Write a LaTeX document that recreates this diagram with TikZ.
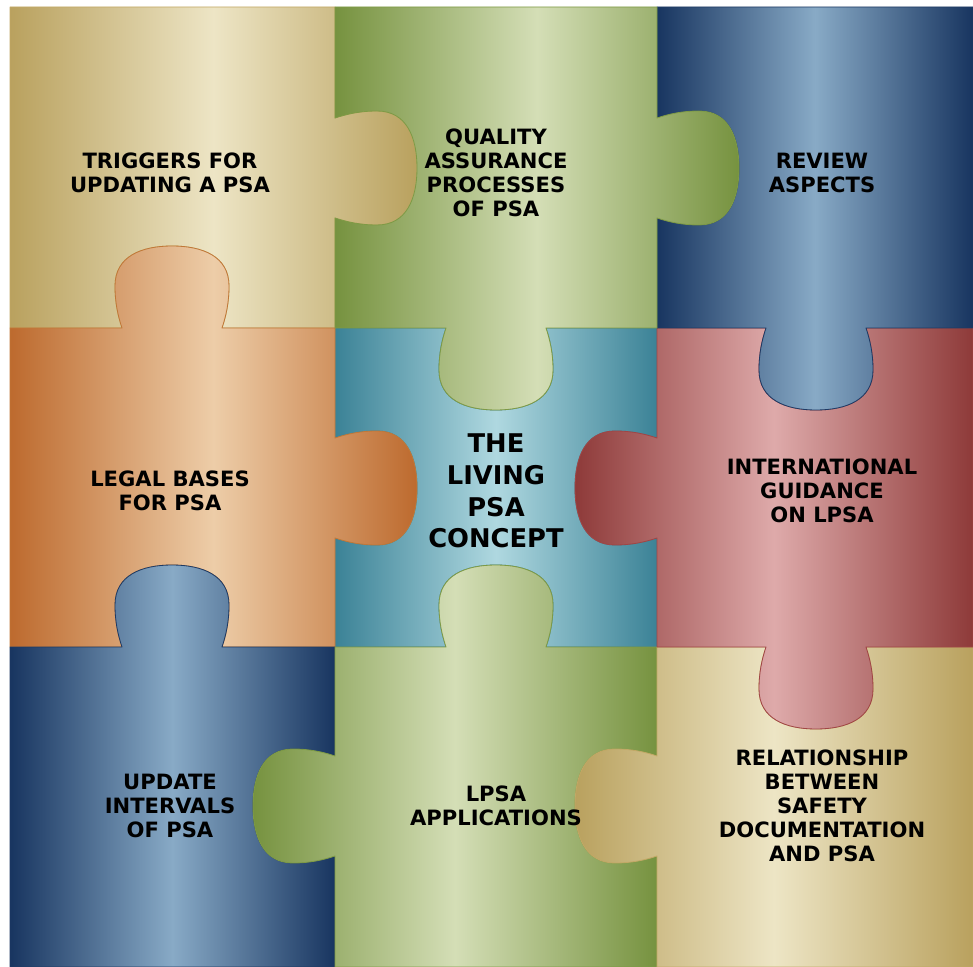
\documentclass[tikz,border=0pt]{standalone}
\usepackage{fontspec}
\setmainfont{DejaVu Sans}
\usepackage{xcolor}
\usepackage{tikz}

% piece colours: dark edge, light middle, outline
\definecolor{goldDark}{HTML}{B9A15E}
\definecolor{goldLight}{HTML}{EDE5C5}
\definecolor{goldLine}{HTML}{C2A865}
\definecolor{greenDark}{HTML}{76923F}
\definecolor{greenLight}{HTML}{D4DEB6}
\definecolor{greenLine}{HTML}{7E9A45}
\definecolor{blueDark}{HTML}{183560}
\definecolor{blueLight}{HTML}{88AAC6}
\definecolor{blueLine}{HTML}{1E3A64}
\definecolor{tealDark}{HTML}{3B8296}
\definecolor{tealLight}{HTML}{AFD8E0}
\definecolor{tealLine}{HTML}{3D8296}
\definecolor{orangeDark}{HTML}{BD6A2E}
\definecolor{orangeLight}{HTML}{EDCDA8}
\definecolor{orangeLine}{HTML}{C07838}
\definecolor{redDark}{HTML}{8E3A39}
\definecolor{redLight}{HTML}{DEAAAA}
\definecolor{redLine}{HTML}{A04545}

% knob on a horizontal edge: centre x, edge y, bulge (+1 down/-1 up), travel (+1 right/-1 left)
\newcommand\hknob[4]{%
  -- ({#1-(#4)*50},#2)
  .. controls ({#1-(#4)*54},{#2+(#3)*12}) and ({#1-(#4)*57},{#2+(#3)*25}) .. ({#1-(#4)*57},{#2+(#3)*42})
  .. controls ({#1-(#4)*57},{#2+(#3)*72}) and ({#1-(#4)*30},{#2+(#3)*82}) .. (#1,{#2+(#3)*82})
  .. controls ({#1+(#4)*30},{#2+(#3)*82}) and ({#1+(#4)*57},{#2+(#3)*72}) .. ({#1+(#4)*57},{#2+(#3)*42})
  .. controls ({#1+(#4)*57},{#2+(#3)*25}) and ({#1+(#4)*54},{#2+(#3)*12}) .. ({#1+(#4)*50},#2)}
% knob on a vertical edge: edge x, centre y, bulge (+1 right/-1 left), travel (+1 down/-1 up)
\newcommand\vknob[4]{%
  -- (#1,{#2-(#4)*50})
  .. controls ({#1+(#3)*12},{#2-(#4)*54}) and ({#1+(#3)*25},{#2-(#4)*57}) .. ({#1+(#3)*42},{#2-(#4)*57})
  .. controls ({#1+(#3)*72},{#2-(#4)*57}) and ({#1+(#3)*82},{#2-(#4)*30}) .. ({#1+(#3)*82},#2)
  .. controls ({#1+(#3)*82},{#2+(#4)*30}) and ({#1+(#3)*72},{#2+(#4)*57}) .. ({#1+(#3)*42},{#2+(#4)*57})
  .. controls ({#1+(#3)*25},{#2+(#4)*57}) and ({#1+(#3)*12},{#2+(#4)*54}) .. (#1,{#2+(#4)*50})}

\begin{document}
\begin{tikzpicture}[
    x=0.3mm, y=-0.3mm,
    piece/.style={line width=0.7pt, line join=round},
    goldpiece/.style={piece, draw=goldLine, left color=goldDark, right color=goldDark, middle color=goldLight},
    greenpiece/.style={piece, draw=greenLine, left color=greenDark, right color=greenDark, middle color=greenLight},
    bluepiece/.style={piece, draw=blueLine, left color=blueDark, right color=blueDark, middle color=blueLight},
    tealpiece/.style={piece, draw=tealLine, left color=tealDark, right color=tealDark, middle color=tealLight},
    orangepiece/.style={piece, draw=orangeLine, left color=orangeDark, right color=orangeDark, middle color=orangeLight},
    redpiece/.style={piece, draw=redLine, left color=redDark, right color=redDark, middle color=redLight},
    piecetext/.style={align=center, font=\bfseries\fontsize{18}{20.5}\selectfont},
    hubtext/.style={align=center, font=\bfseries\fontsize{22}{27}\selectfont}
]
\useasboundingbox (0,0) rectangle (973,967);

% Pieces
\path[tealpiece] (335,328) \hknob{496}{328}{1}{1} -- (657,328) \vknob{657}{488}{-1}{1} -- (657,647)
  \hknob{496}{647}{-1}{-1} -- (335,647) \vknob{335}{488}{1}{-1} -- cycle;
\path[goldpiece] (10,7) -- (335,7) \vknob{335}{168}{1}{1} -- (335,328) \hknob{172}{328}{-1}{-1} -- (10,328) -- cycle;
\path[orangepiece] (10,328) \hknob{172}{328}{-1}{1} -- (335,328) \vknob{335}{488}{1}{1} -- (335,647)
  \hknob{172}{647}{-1}{-1} -- (10,647) -- cycle;
\path[bluepiece] (10,647) \hknob{172}{647}{-1}{1} -- (335,647) \vknob{335}{806}{-1}{1} -- (335,967) -- (10,967) -- cycle;
\path[greenpiece] (335,647) \hknob{496}{647}{-1}{1} -- (657,647) \vknob{657}{806}{-1}{1} -- (657,967) -- (335,967)
  \vknob{335}{806}{-1}{-1} -- cycle;
\path[goldpiece] (657,647) \hknob{816}{647}{1}{1} -- (973,647) -- (973,967) -- (657,967) \vknob{657}{806}{-1}{-1} -- cycle;
\path[redpiece] (657,328) \hknob{816}{328}{1}{1} -- (973,328) -- (973,647) \hknob{816}{647}{1}{-1} -- (657,647)
  \vknob{657}{488}{-1}{-1} -- cycle;
\path[bluepiece] (657,7) -- (973,7) -- (973,328) \hknob{816}{328}{1}{-1} -- (657,328) \vknob{657}{168}{1}{-1} -- cycle;
\path[greenpiece] (335,7) -- (657,7) \vknob{657}{168}{1}{1} -- (657,328) \hknob{496}{328}{1}{-1} -- (335,328)
  \vknob{335}{168}{1}{-1} -- cycle;

% Labels
\node[piecetext] (triggers) at (170,173) {TRIGGERS FOR\\UPDATING A PSA};
\node[piecetext] (quality) at (496,173) {QUALITY\\ASSURANCE\\PROCESSES\\OF PSA};
\node[piecetext] (review) at (822,173) {REVIEW\\ASPECTS};
\node[piecetext] (legal) at (170,491) {LEGAL BASES\\FOR PSA};
\node[hubtext] (concept) at (496,491) {THE\\LIVING\\PSA\\CONCEPT};
\node[piecetext] (guidance) at (822,491) {INTERNATIONAL\\GUIDANCE\\ON LPSA};
\node[piecetext] (intervals) at (170,806) {UPDATE\\INTERVALS\\OF PSA};
\node[piecetext] (applications) at (496,806) {LPSA\\APPLICATIONS};
\node[piecetext] (relationship) at (822,806) {RELATIONSHIP\\BETWEEN\\SAFETY\\DOCUMENTATION\\AND PSA};

\end{tikzpicture}
\end{document}
